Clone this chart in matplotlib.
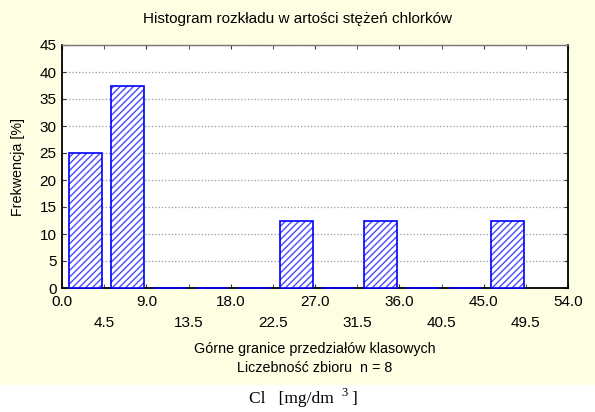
import matplotlib.pyplot as plt
from matplotlib.patches import Rectangle
import numpy as np

# histogram data: class lower edges, upper edges and frequency [%]
bin_left = [0.0, 4.5, 9.0, 13.5, 18.0, 22.5, 27.0, 31.5, 36.0, 40.5, 45.0]
bin_width = 4.5
freq = [25.0, 37.5, 0, 0, 0, 12.5, 0, 12.5, 0, 0, 12.5]
major_ticks = [0.0, 9.0, 18.0, 27.0, 36.0, 45.0, 54.0]
minor_ticks = [4.5, 13.5, 22.5, 31.5, 40.5, 49.5]
y_ticks = [0, 5, 10, 15, 20, 25, 30, 35, 40, 45]

plt.rcParams['font.family'] = ['Liberation Sans', 'DejaVu Sans']
plt.rcParams['hatch.linewidth'] = 1.0

fig = plt.figure(figsize=(5.95, 4.12), dpi=100)
fig.patch.set_facecolor('white')
# cream panel behind the statistica chart
fig.add_artist(Rectangle((0, 27/412), 1, 1 - 27/412, transform=fig.transFigure,
                         facecolor='#FEFEE3', edgecolor='none', zorder=0))

ax = fig.add_axes([62/595, 1 - 288/412, (568-62)/595, (288-45)/412])
ax.set_facecolor('white')

x = np.array(bin_left) + 0.75
w = bin_width - 0.95
# hatch layer (lighter blue) then outline layer
ax.bar(x, freq, width=w, align='edge', facecolor='white',
       edgecolor='#4a4aff', hatch='/////', linewidth=0, zorder=3, clip_on=False)
ax.bar(x, freq, width=w, align='edge', facecolor='none',
       edgecolor='#0000ff', linewidth=1.2, zorder=4, clip_on=False)

ax.set_xlim(0, 54)
ax.set_ylim(0, 45)
ax.set_yticks(y_ticks)
ax.set_xticks(major_ticks)
ax.set_xticklabels(['%.1f' % v for v in major_ticks])
ax.set_xticks(minor_ticks, minor=True)
ax.set_xticklabels(['%.1f' % v for v in minor_ticks], minor=True)

ax.tick_params(axis='both', which='both', direction='in', length=3, labelsize=11,
               top=True, right=True, color='#333333')
ax.tick_params(axis='x', which='major', pad=5)
ax.tick_params(axis='x', which='minor', pad=20)
ax.tick_params(axis='y', pad=4)

ax.grid(axis='y', linestyle=':', color='#999999', linewidth=0.9, zorder=0)
ax.set_axisbelow(True)
for side in ['left', 'bottom', 'right']:
    ax.spines[side].set_linewidth(1.3)
    ax.spines[side].set_color('black')
ax.spines['top'].set_color('#777777')
ax.spines['top'].set_linewidth(1.0)

ax.set_ylabel('Frekwencja [%]', fontsize=10.3)
ax.yaxis.set_label_coords(-0.074, 0.5)

fig.text(0.5, 1 - 19/412, 'Histogram rozkładu w artości stężeń chlorków',
         ha='center', va='center', fontsize=11)
fig.text((62+568)/2/595, 1 - 349/412, 'Górne granice przedziałów klasowych',
         ha='center', va='center', fontsize=10.3)
fig.text((62+568)/2/595, 1 - 368/412, 'Liczebność zbioru  n = 8',
         ha='center', va='center', fontsize=10.3)

# unit label below the panel, superscript placed by hand
serif = ['Liberation Serif', 'DejaVu Serif']
fig.text(249/595, 1 - 399/412, 'Cl   [mg/dm', ha='left', va='center',
         fontsize=12.5, family=serif)
fig.text(341/595, 1 - 393/412, '3', ha='left', va='center',
         fontsize=9, family=serif)
fig.text(351/595, 1 - 399/412, ']', ha='left', va='center',
         fontsize=12.5, family=serif)

fig.savefig('out.png', dpi=100)
